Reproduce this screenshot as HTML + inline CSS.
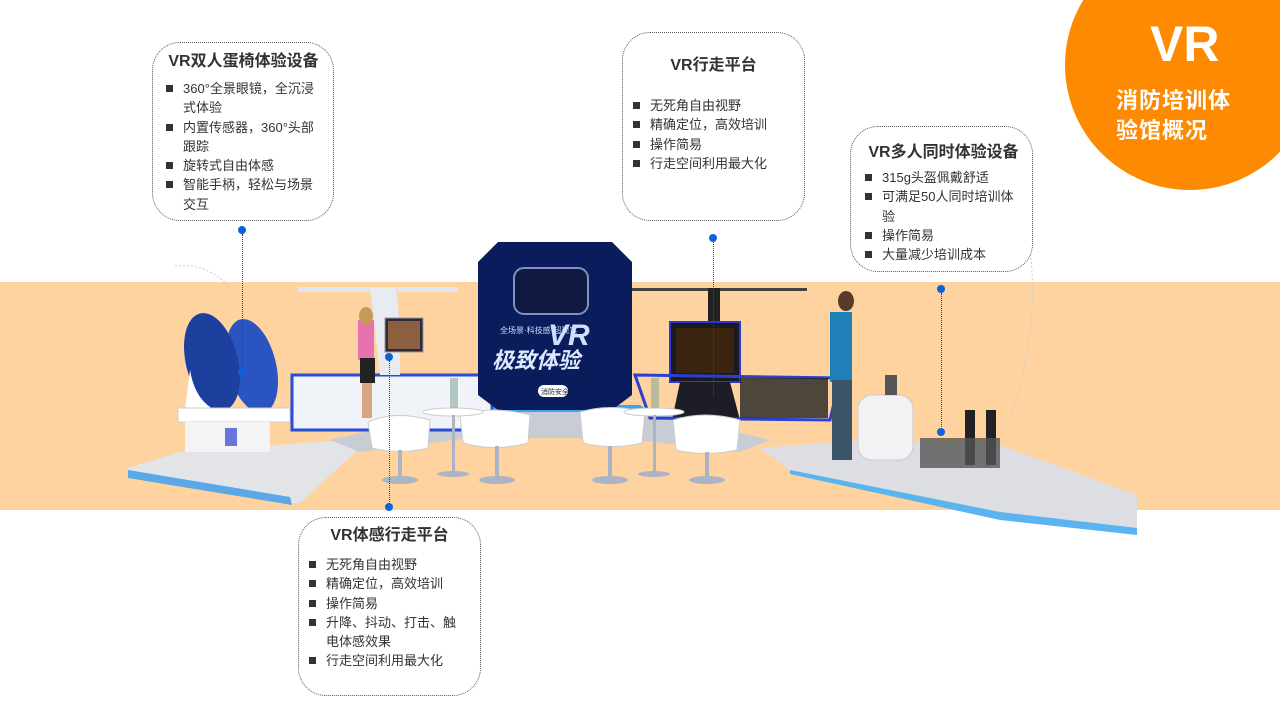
<!DOCTYPE html>
<html><head><meta charset="utf-8"><style>
body{margin:0;width:1280px;height:720px;overflow:hidden;background:#fff;position:relative;font-family:"Liberation Sans","Noto Sans CJK SC",sans-serif;color:#333}
.band{position:absolute;left:0;top:282px;width:1280px;height:228px;background:#fed3a0}
.circle{position:absolute;left:1065px;top:-60px;width:250px;height:250px;border-radius:50%;background:#fd8a00}
.ct{position:absolute;color:#fff;font-weight:bold}
.box{position:absolute;border:1px dotted #555;border-radius:28px;background:#fff;box-sizing:border-box}
.box h3{margin:0;font-size:16px;font-weight:bold;text-align:center;color:#333}
.box ul{list-style:none;margin:0;padding:0}
.box li{position:relative;padding-left:17px;font-size:13px;line-height:19.3px;color:#333}
.box li:before{content:"";position:absolute;left:0;top:6px;width:7px;height:7px;background:#333}
.dot{position:absolute;width:8px;height:8px;border-radius:50%;background:#0a64d8}
.vl{position:absolute;width:0;border-left:1px dotted #444}
</style></head><body>
<div class="band"></div>
<svg width="1280" height="720" style="position:absolute;left:0;top:0">
<path d="M175 266 Q215 262 240 300" stroke="#ccc" fill="none" stroke-dasharray="2 2"/>
<path d="M1030 250 Q1040 330 1010 420" stroke="#ccc" fill="none" stroke-dasharray="2 2"/>
<polygon points="128,468 180,452 345,440 360,448 300,503 290,503 128,478" fill="#e2e4e8"/>
<polygon points="128,470 290,497 292,505 128,478" fill="#5aa8e8"/>
<polygon points="330,440 470,408 640,408 770,440 740,452 620,438 470,438 360,452" fill="#c8ccd4"/>
<polygon points="470,405 640,405 650,412 462,412" fill="#3aa6f0"/>
<polygon points="760,448 860,440 1000,445 1137,495 1137,535 1000,515 790,470" fill="#dcdee4"/>
<polygon points="790,470 1000,512 1137,528 1137,535 1000,520 790,474" fill="#5ab4f0"/>
<rect x="292" y="375" width="200" height="55" fill="#f0f3f8" stroke="#2a4ad8" stroke-width="3"/>
<rect x="298" y="287" width="160" height="5" fill="#e0e6ee"/>
<path d="M370 288 L395 288 Q400 300 400 375 L380 375 Z" fill="#e8ecf2"/>
<rect x="385" y="318" width="38" height="34" fill="#2b2b3a" stroke="#999"/>
<rect x="388" y="321" width="32" height="28" fill="#8a6040"/>
<rect x="358" y="320" width="16" height="40" fill="#e673b0"/>
<ellipse cx="366" cy="316" rx="7" ry="9" fill="#c79a5a"/>
<rect x="360" y="358" width="15" height="25" fill="#222"/>
<rect x="362" y="383" width="10" height="35" fill="#d7a583"/>
<!-- egg chairs -->
<ellipse cx="252" cy="366" rx="24" ry="48" fill="#2a55c0" transform="rotate(-14 252 366)"/>
<ellipse cx="212" cy="362" rx="26" ry="50" fill="#1d3f9e" transform="rotate(-14 212 362)"/>
<path d="M190 370 Q195 400 215 410 L185 410 Z" fill="#fff"/>
<rect x="178" y="408" width="112" height="14" fill="#fff" stroke="#ccc"/>
<rect x="185" y="422" width="85" height="30" fill="#f4f4f6"/>
<rect x="225" y="428" width="12" height="18" fill="#2a40d0" opacity=".7"/>
<polygon points="478,262 498,242 612,242 632,262 632,395 612,410 498,410 478,395" fill="#0b1c5c"/>
<rect x="514" y="268" width="74" height="46" rx="10" fill="#101a40" stroke="#8090c0" stroke-width="2"/>
<text x="548" y="345" font-size="30" font-weight="bold" fill="#cfe0ff" font-style="italic">VR</text>
<text x="492" y="368" font-size="22" font-weight="bold" fill="#dbe8ff" font-style="italic">极致体验</text>
<text x="500" y="333" font-size="8" fill="#cfe0ff">全场景·科技感·超现实</text>
<rect x="538" y="385" width="30" height="12" rx="6" fill="#fff"/>
<text x="541" y="394" font-size="7" fill="#123">消防安全</text>
<rect x="632" y="288" width="175" height="3" fill="#444"/>
<rect x="708" y="288" width="12" height="40" fill="#222"/>
<rect x="670" y="322" width="70" height="60" fill="#1a1a24" stroke="#2a3ad0" stroke-width="2"/>
<rect x="676" y="328" width="58" height="45" fill="#3a2410"/>
<polygon points="680,382 730,382 740,420 672,420" fill="#1d1d28"/>
<polygon points="635,375 840,378 830,420 650,418" fill="none" stroke="#2a40d0" stroke-width="3"/>
<rect x="740" y="378" width="88" height="40" fill="#222" opacity=".8"/>
<ellipse cx="846" cy="301" rx="8" ry="10" fill="#5a3a2a"/>
<rect x="830" y="312" width="22" height="70" fill="#1f7fb8"/>
<rect x="832" y="380" width="20" height="80" fill="#3b5468"/>
<rect x="858" y="395" width="55" height="65" rx="14" fill="#f2f2f4" stroke="#ccc"/>
<rect x="885" y="375" width="12" height="20" fill="#555"/>
<rect x="965" y="410" width="10" height="55" fill="#222"/>
<rect x="986" y="410" width="10" height="55" fill="#222"/>
<rect x="920" y="438" width="80" height="30" fill="#555" opacity=".8"/>
<g fill="#fff" stroke="#ccc">
<path d="M368 422 Q395 410 430 420 L428 448 Q400 455 372 448 Z"/>
<path d="M460 415 Q490 405 530 415 L528 443 Q495 452 463 443 Z"/>
<path d="M580 412 Q610 403 645 412 L642 443 Q610 450 583 443 Z"/>
<path d="M673 420 Q705 410 740 420 L737 450 Q705 457 676 450 Z"/>
<ellipse cx="453" cy="412" rx="30" ry="4"/>
<ellipse cx="654" cy="412" rx="30" ry="4"/>
</g>
<g fill="#aab4c4">
<rect x="398" y="450" width="4" height="28"/><ellipse cx="400" cy="480" rx="18" ry="4"/>
<rect x="452" y="415" width="3" height="58"/><ellipse cx="453" cy="474" rx="16" ry="3"/>
<rect x="495" y="446" width="4" height="30"/><ellipse cx="497" cy="480" rx="18" ry="4"/>
<rect x="608" y="446" width="4" height="32"/><ellipse cx="610" cy="480" rx="18" ry="4"/>
<rect x="653" y="415" width="3" height="58"/><ellipse cx="654" cy="474" rx="16" ry="3"/>
<rect x="705" y="452" width="4" height="26"/><ellipse cx="707" cy="480" rx="18" ry="4"/>
</g>
<rect x="450" y="378" width="8" height="30" fill="#8a9" opacity=".6"/>
<rect x="651" y="378" width="8" height="30" fill="#8a9" opacity=".6"/>
</svg>
<div class="circle"></div>
<div class="ct" style="left:1150px;top:14px;font-size:50px;line-height:60px">VR</div>
<div class="ct" style="left:1116px;top:86px;font-size:22px;line-height:30px;letter-spacing:1px">消防培训体<br>验馆概况</div>

<div class="vl" style="left:242px;top:234px;height:138px"></div>
<div class="vl" style="left:713px;top:242px;height:155px"></div>
<div class="vl" style="left:941px;top:293px;height:140px"></div>
<div class="vl" style="left:389px;top:360px;height:146px"></div>
<div class="dot" style="left:238px;top:226px"></div>
<div class="dot" style="left:238px;top:368px"></div>
<div class="dot" style="left:709px;top:234px"></div>
<div class="dot" style="left:937px;top:285px"></div>
<div class="dot" style="left:937px;top:428px"></div>
<div class="dot" style="left:385px;top:353px"></div>
<div class="dot" style="left:385px;top:503px"></div>

<div class="box" style="left:152px;top:42px;width:182px;height:179px;padding:4px 12px 0 13px">
<h3>VR双人蛋椅体验设备</h3>
<ul style="margin-top:8px"><li>360°全景眼镜，全沉浸式体验</li><li>内置传感器，360°头部跟踪</li><li>旋转式自由体感</li><li>智能手柄，轻松与场景交互</li></ul></div>

<div class="box" style="left:622px;top:32px;width:183px;height:189px;padding:18px 10px 0 10px">
<h3>VR行走平台</h3>
<ul style="margin-top:21px"><li>无死角自由视野</li><li>精确定位，高效培训</li><li>操作简易</li><li>行走空间利用最大化</li></ul></div>

<div class="box" style="left:850px;top:126px;width:183px;height:146px;padding:11px 10px 0 14px">
<h3>VR多人同时体验设备</h3>
<ul style="margin-top:6px"><li>315g头盔佩戴舒适</li><li>可满足50人同时培训体验</li><li>操作简易</li><li>大量减少培训成本</li></ul></div>

<div class="box" style="left:298px;top:517px;width:183px;height:179px;padding:3px 20px 0 10px">
<h3 style="margin-right:-10px">VR体感行走平台</h3>
<ul style="margin-top:10px"><li>无死角自由视野</li><li>精确定位，高效培训</li><li>操作简易</li><li>升降、抖动、打击、触电体感效果</li><li>行走空间利用最大化</li></ul></div>
</body></html>
